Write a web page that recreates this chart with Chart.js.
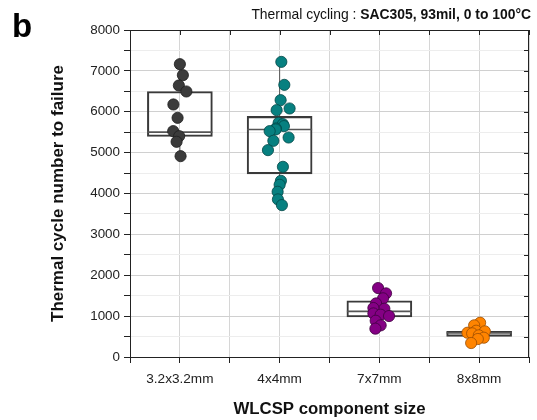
<!DOCTYPE html>
<html>
<head>
<meta charset="utf-8">
<script src="https://cdn.jsdelivr.net/npm/chart.js@4"></script>
<style>
  body { margin: 0; background: #fff; }
  #wrap { width: 537px; height: 420px; }
</style>
</head>
<body>
<div id="wrap"><canvas id="boxChart" width="537" height="420"></canvas></div>
<script>
// ---- data ----
const sizes = ['3.2x3.2mm', '4x4mm', '7x7mm', '8x8mm'];

// cycles to failure, one array per component size
const cycles32 = [7164, 6895, 6643, 6496, 6178, 5851, 5526, 5403, 5265, 4914];
const cycles4 = [7220, 6658, 6284, 6039, 6080, 5729, 5697, 5648, 5591, 5567, 5526,
                 5370, 5289, 5061, 4653, 4310, 4213, 4042, 3856, 3716];
const cycles7 = [1687, 1557, 1435, 1311, 1181, 1198, 1066, 1035, 1002, 887, 774, 693];
const cycles8 = [839, 775, 643, 628, 594, 579, 530, 472, 440, 342];

// horizontal jitter of each dot, in category units
const jitter32 = [0.0, 0.03, -0.01, 0.065, -0.065, -0.023, -0.067, -0.007, -0.033, 0.007];
const jitter4 = [0.017, 0.047, 0.01, -0.03, 0.1, -0.01, 0.033, 0.043, -0.037, -0.04, -0.1,
                 0.09, -0.063, -0.117, 0.033, 0.013, 0.0, -0.02, -0.017, 0.023];
const jitter7 = [-0.013, 0.067, 0.037, -0.033, 0.05, -0.06, -0.06, 0.013, 0.097, -0.037, 0.013, -0.04];
const jitter8 = [0.01, -0.05, -0.03, 0.057, -0.117, -0.07, -0.003, 0.047, -0.013, -0.08];

// box statistics
const q1 = [5396, 4481, 978, 506];
const median = [5501, 5567, 1117, 590];
const q3 = [6496, 5885, 1377, 628];
const whiskerLow = [4914, 3716, 693, 342];
const whiskerHigh = [7164, 7220, 1687, 839];

const yTicks = [0, 1000, 2000, 3000, 4000, 5000, 6000, 7000, 8000];

// ---- styling ----
const FONT = "Arial, 'Liberation Sans', sans-serif";
const groups = [
  { values: cycles32, jitter: jitter32, fill: '#3b3b3b', edge: '#1e1e1e' },
  { values: cycles4,  jitter: jitter4,  fill: '#078080', edge: '#034646' },
  { values: cycles7,  jitter: jitter7,  fill: '#840084', edge: '#3f003f' },
  { values: cycles8,  jitter: jitter8,  fill: '#ff8400', edge: '#9a4d00' }
];

// dots
const dotSets = groups.map(function(g, i) {
  return {
    type: 'scatter',
    order: 0,
    data: g.values.map(function(v, k) { return { x: i + g.jitter[k], y: v }; }),
    backgroundColor: g.fill,
    borderColor: g.edge,
    borderWidth: 0.8,
    pointRadius: 5.6,
    pointHoverRadius: 5.6
  };
});

// whiskers: q1 -> low and q3 -> high, broken with nulls
const whiskerData = [];
sizes.forEach(function(s, i) {
  whiskerData.push({ x: i, y: whiskerLow[i] }, { x: i, y: q1[i] }, { x: i, y: null });
  whiskerData.push({ x: i, y: q3[i] }, { x: i, y: whiskerHigh[i] }, { x: i, y: null });
});

const chart = new Chart(document.getElementById('boxChart'), {
  type: 'bar',
  data: {
    datasets: dotSets.concat([
      {
        type: 'scatter',
        order: 1,
        data: median.map(function(m, i) { return { x: i, y: m }; }),
        pointStyle: 'line',
        pointRadius: 32.5,
        pointHoverRadius: 32.5,
        borderColor: '#555',
        borderWidth: 1.6
      },
      {
        type: 'bar',
        order: 2,
        data: sizes.map(function(s, i) { return { x: i, y: [q1[i], q3[i]] }; }),
        backgroundColor: 'rgba(0,0,0,0)',
        borderColor: '#3a3a3a',
        borderWidth: 1.4,
        borderSkipped: false,
        barThickness: 65
      },
      {
        type: 'line',
        order: 3,
        data: whiskerData,
        borderColor: '#555',
        borderWidth: 1,
        pointRadius: 0,
        spanGaps: false
      }
    ])
  },
  options: {
    responsive: false,
    animation: false,
    events: [],
    layout: { autoPadding: false, padding: { top: 30, left: 40, right: 5, bottom: 0 } },
    plugins: { legend: { display: false }, tooltip: { enabled: false } },
    scales: {
      x: {
        type: 'linear',
        min: -0.5,
        max: 3.5,
        offset: false,
        afterFit: function(scale) { scale.height = 63; },
        ticks: {
          stepSize: 0.5,
          autoSkip: false,
          maxRotation: 0,
          padding: 8,
          color: '#222',
          font: { family: FONT, size: 13.6 },
          callback: function(v) { return Number.isInteger(v) ? sizes[v] : ''; }
        },
        grid: { offset: false, color: '#d6d6d6', tickColor: '#222', tickLength: 6 },
        border: { color: '#222', width: 1 },
        title: {
          display: true,
          text: 'WLCSP component size',
          color: '#111',
          font: { family: FONT, size: 16.8, weight: 'bold' },
          padding: { top: 0, bottom: 1 }
        }
      },
      y: {
        min: 0,
        max: 8000,
        afterFit: function(scale) { scale.width = 90; },
        ticks: {
          stepSize: 500,
          padding: 4,
          color: '#222',
          font: { family: FONT, size: 13.4 },
          callback: function(v) { return yTicks.includes(v) ? String(v) : ''; }
        },
        grid: {
          color: function(c) { return c.tick && c.tick.value % 1000 === 0 ? '#d0d0d0' : '#ededed'; },
          tickColor: '#222',
          tickLength: 6
        },
        border: { color: '#222', width: 1 },
        title: {
          display: true,
          text: 'Thermal cycle number to failure',
          color: '#111',
          font: { family: FONT, size: 17, weight: 'bold' },
          padding: { top: 8, bottom: 0 }
        }
      }
    }
  },
  plugins: [{
    id: 'frameAndLabels',
    afterDraw: function(c) {
      const ctx = c.ctx;
      const a = c.chartArea;
      const xs = c.scales.x;
      const ys = c.scales.y;
      ctx.save();
      // top and right frame with inward ticks
      ctx.strokeStyle = '#222';
      ctx.lineWidth = 1;
      ctx.beginPath();
      ctx.moveTo(a.left, a.top + 0.5);
      ctx.lineTo(a.right, a.top + 0.5);
      ctx.moveTo(a.right - 0.5, a.top);
      ctx.lineTo(a.right - 0.5, a.bottom);
      for (let v = -0.5; v <= 3.5; v += 0.5) {
        const px = Math.round(xs.getPixelForValue(v)) + 0.5;
        ctx.moveTo(px, a.top);
        ctx.lineTo(px, a.top + 5);
      }
      for (let v = 0; v <= 8000; v += 500) {
        const py = Math.round(ys.getPixelForValue(v)) + 0.5;
        ctx.moveTo(a.right, py);
        ctx.lineTo(a.right - 5, py);
      }
      ctx.stroke();

      // panel letter
      ctx.fillStyle = '#000';
      ctx.textBaseline = 'alphabetic';
      ctx.textAlign = 'left';
      ctx.font = 'bold 33px ' + FONT;
      ctx.fillText('b', 12, 37);

      // heading: normal + bold part, right aligned
      const normal = 'Thermal cycling : ';
      const bold = 'SAC305, 93mil, 0 to 100\u00B0C';
      ctx.font = 'bold 13.9px ' + FONT;
      const wb = ctx.measureText(bold).width;
      ctx.font = '13.9px ' + FONT;
      const wn = ctx.measureText(normal).width;
      const xEnd = 531;
      ctx.fillStyle = '#111';
      ctx.fillText(normal, xEnd - wb - wn, 19);
      ctx.font = 'bold 13.9px ' + FONT;
      ctx.fillText(bold, xEnd - wb, 19);
      ctx.restore();
    }
  }]
});
</script>
</body>
</html>
